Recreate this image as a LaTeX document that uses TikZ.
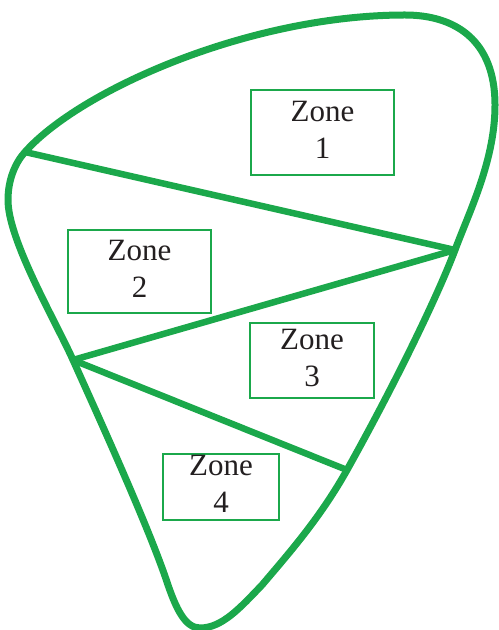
\documentclass[tikz,border=0pt]{standalone}
\usepackage{fontspec}
\setmainfont{Liberation Serif}
\definecolor{ZoneGreen}{HTML}{1BA84B}
\definecolor{InkBlack}{HTML}{231F20}
\usetikzlibrary{positioning}

\begin{document}
\begin{tikzpicture}[
  x=0.5pt, y=-0.5pt,
  outline/.style={draw=ZoneGreen, line width=3.5pt, line join=round},
  divider/.style={draw=ZoneGreen, line width=3.25pt, line cap=round},
  zonebox/.style={draw=ZoneGreen, line width=1pt, fill=white, align=center,
    inner sep=0pt, text=InkBlack, text depth=3pt,
    font=\fontsize{15.5}{18.5}\selectfont}
]
\useasboundingbox (0,0) rectangle (498,630);

% points where the dividers meet the outline
\coordinate (A) at (25,152);
\coordinate (B) at (455,250);
\coordinate (C) at (73,360);
\coordinate (D) at (347,470);

% outline of the field
\draw[outline] (A)
  .. controls (80,90) and (250,15) .. (405,15)
  .. controls (455,15) and (495,40) .. (495,105)
  .. controls (495,160) and (470,210) .. (B)
  .. controls (440,290) and (400,375) .. (D)
  .. controls (320,518) and (290,552) .. (262,585)
  .. controls (240,608) and (222,628) .. (200,628)
  .. controls (185,628) and (176,608) .. (168,585)
  .. controls (150,530) and (100,420) .. (C)
  .. controls (55,320) and (8,240) .. (8,200)
  .. controls (8,180) and (15,163) .. cycle;

% dividers between the zones
\draw[divider] (A) -- (B);
\draw[divider] (B) -- (C);
\draw[divider] (C) -- (D);

% zone labels
\node[zonebox, minimum width=71.5pt, minimum height=42.5pt] (zone1) at (322.5,132.5) {Zone\\1};
\node[zonebox, minimum width=71.5pt, minimum height=41.5pt] (zone2) at (139.5,271.5) {Zone\\2};
\node[zonebox, minimum width=62pt, minimum height=37.5pt] (zone3) at (312,360.5) {Zone\\3};
\node[zonebox, minimum width=58pt, minimum height=33pt] (zone4) at (221,487) {Zone\\4};

\end{tikzpicture}
\end{document}
